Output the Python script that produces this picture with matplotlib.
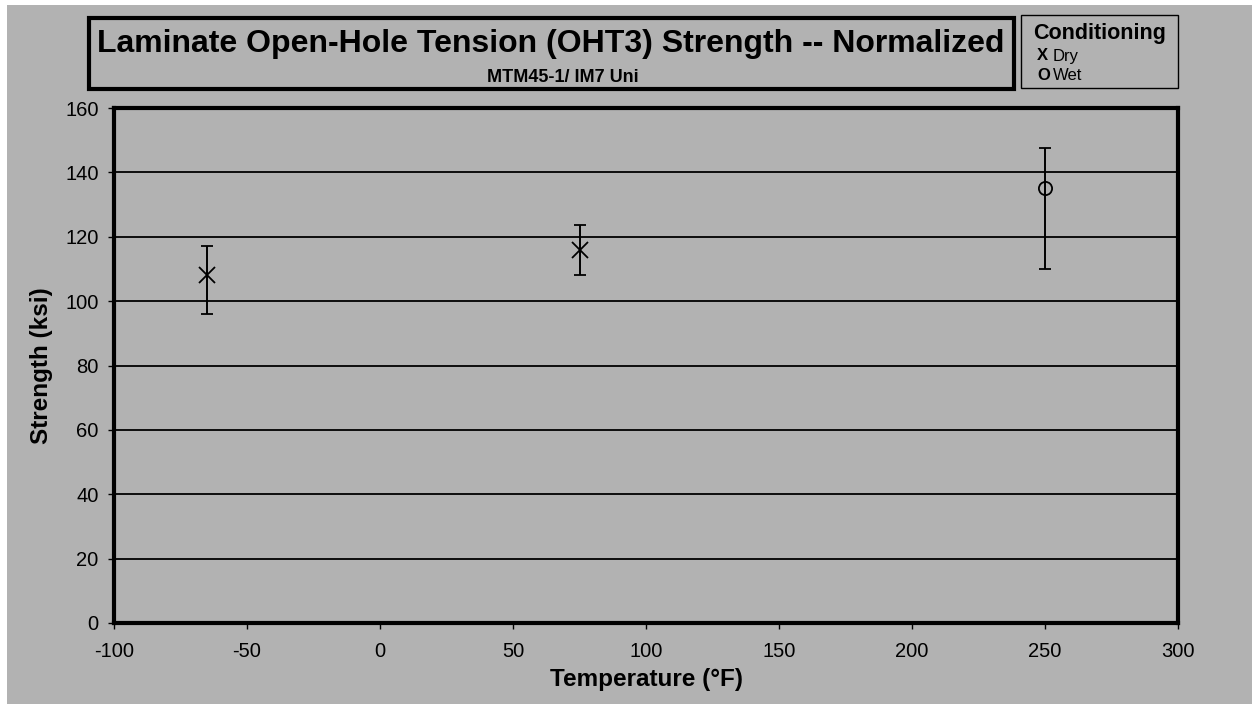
import numpy as np
import matplotlib.pyplot as plt
from matplotlib.patches import Rectangle

plt.rcParams['font.family'] = ['Liberation Sans', 'DejaVu Sans']
plt.rcParams['axes.unicode_minus'] = False

# data
dry_temp = [-65, 75]
dry_mean = [108.0, 115.8]
dry_low = [96.0, 108.0]
dry_high = [117.2, 123.6]

wet_temp = [250]
wet_mean = [135.0]
wet_low = [110.0]
wet_high = [147.5]

bg = '#b2b2b2'

fig = plt.figure(figsize=(12.52, 7.04), dpi=100)
fig.patch.set_facecolor('white')
fig.patches.append(Rectangle((7/1252, 0), 1, 1 - 5/704, transform=fig.transFigure,
                             facecolor=bg, edgecolor='none', zorder=-10))

ax = fig.add_axes([114/1252, 81/704, 1064/1252, 515/704])
ax.set_facecolor(bg)

def yerr(m, lo, hi):
    m = np.array(m); return [m - np.array(lo), np.array(hi) - m]

ax.errorbar(dry_temp, dry_mean, yerr=yerr(dry_mean, dry_low, dry_high), fmt='x',
            color='black', ms=11, mew=1.3, elinewidth=1.4, capsize=4, capthick=1.4, zorder=5)
ax.errorbar(wet_temp, wet_mean, yerr=yerr(wet_mean, wet_low, wet_high), fmt='o',
            color='black', mfc='none', ms=9.5, mew=1.3, elinewidth=1.4, capsize=4, capthick=1.4, zorder=5)

ax.set_xlim(-100, 300)
ax.set_ylim(0, 160)
ax.set_xticks(np.arange(-100, 301, 50))
ax.set_yticks(np.arange(0, 161, 20))
ax.yaxis.grid(True, color='black', lw=1.3)
ax.set_axisbelow(True)
for s in ax.spines.values():
    s.set_linewidth(3)
ax.tick_params(labelsize=14.5, length=4, width=1, direction='out')
ax.tick_params(axis='x', pad=10)
ax.tick_params(axis='y', pad=7)
ax.set_xlabel('Temperature (°F)', fontsize=17.5, fontweight='bold', labelpad=5)
ax.set_ylabel('Strength (ksi)', fontsize=17.5, fontweight='bold', labelpad=9)

# title box
fig.patches.append(Rectangle((89/1252, 1 - 89/704), 925/1252, 71/704, transform=fig.transFigure,
                             facecolor='none', edgecolor='black', lw=3))
fig.text(551/1252, 1 - 44/704, 'Laminate Open-Hole Tension (OHT3) Strength -- Normalized',
         ha='center', va='center', fontsize=23, fontweight='bold')
fig.text(563/1252, 1 - 78/704, 'MTM45-1/ IM7 Uni', ha='center', va='center',
         fontsize=13, fontweight='bold')

# legend box
fig.patches.append(Rectangle((1021/1252, 1 - 88/704), 157/1252, 73/704, transform=fig.transFigure,
                             facecolor='none', edgecolor='black', lw=1))
fig.text(1100/1252, 1 - 33/704, 'Conditioning', ha='center', va='center',
         fontsize=15.5, fontweight='bold')
fig.text(1037/1252, 1 - 56/704, 'X', ha='left', va='center', fontsize=12, fontweight='bold')
fig.text(1053/1252, 1 - 56/704, 'Dry', ha='left', va='center', fontsize=12)
fig.text(1037/1252, 1 - 75/704, 'O', ha='left', va='center', fontsize=12, fontweight='bold')
fig.text(1053/1252, 1 - 75/704, 'Wet', ha='left', va='center', fontsize=12)

fig.savefig('out.png', dpi=100)
